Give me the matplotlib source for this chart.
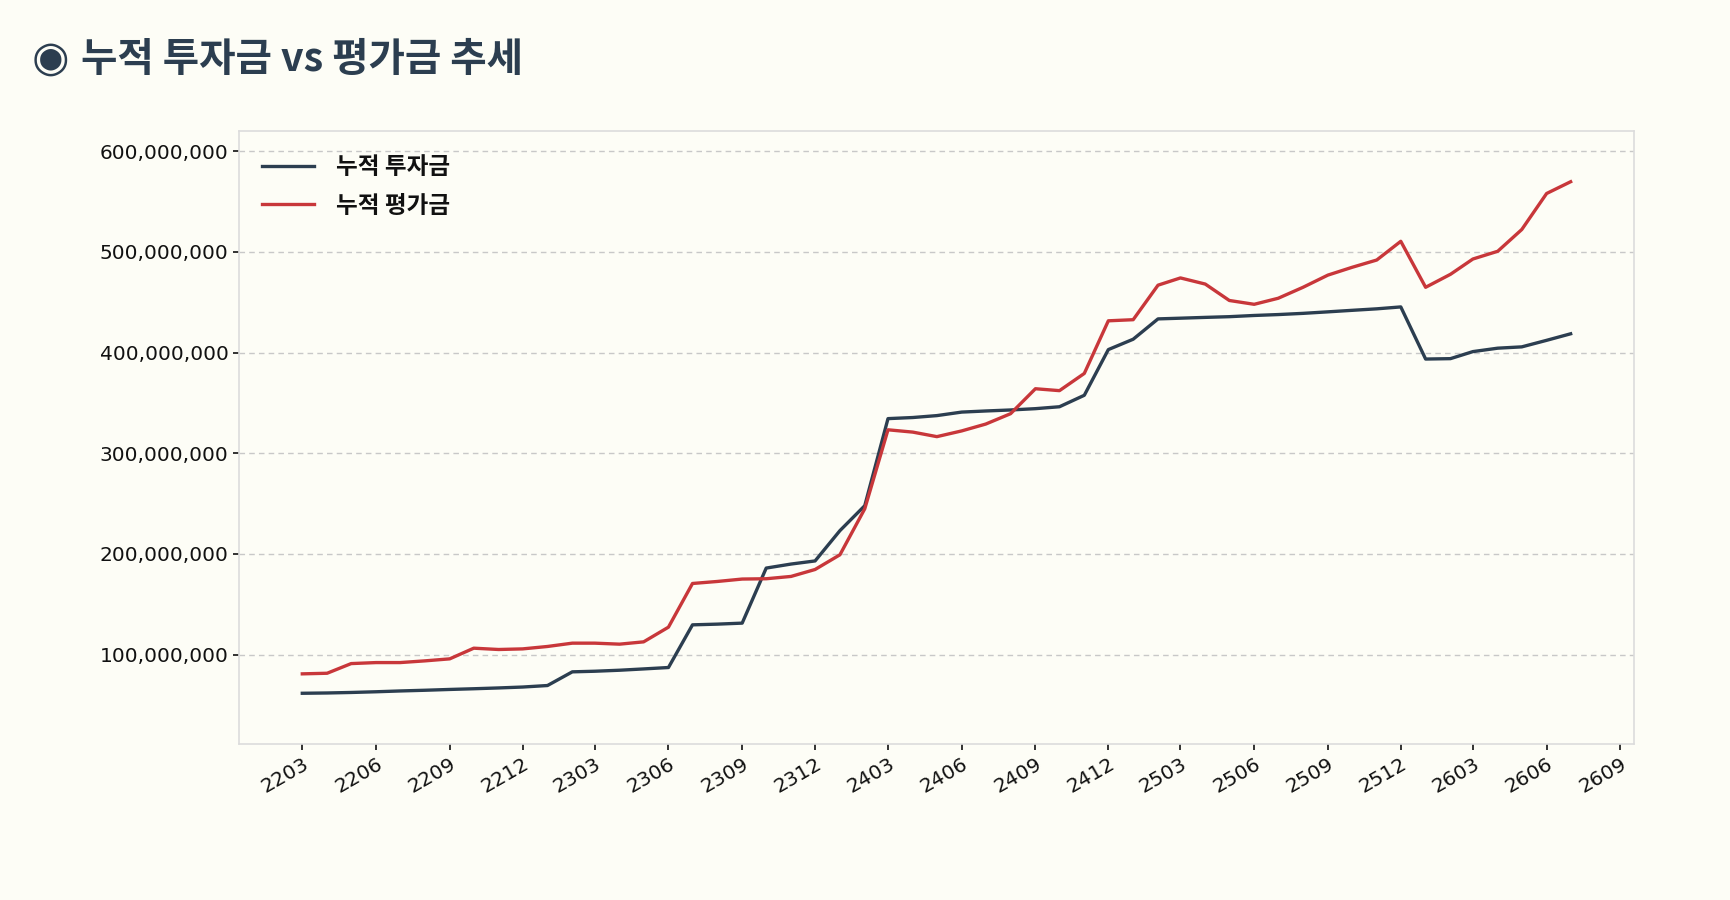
import matplotlib
matplotlib.use("Agg")
import matplotlib.pyplot as plt
import matplotlib.dates as mdates
from matplotlib.ticker import FuncFormatter
import pandas as pd

# ---- data (millions of KRW) ----
months = pd.date_range("2022-03-01", "2026-07-01", freq="MS")

invested_m = [
    61.5, 61.8, 62.3, 63.0, 63.8, 64.5, 65.3, 66.0, 66.8, 67.7,   # 2203-2212
    69.2, 82.8, 83.4, 84.4, 85.7, 87.1, 129.5, 130.2, 131.2, 185.9, 189.9, 193.0,  # 2301-2312
    223.1, 247.9, 334.4, 335.5, 337.4, 340.9, 342.0, 343.0, 344.3, 346.2, 357.6, 403.0,  # 2401-2412
    413.3, 433.5, 434.2, 435.0, 435.7, 436.9, 437.8, 439.0, 440.5, 442.0, 443.5, 445.4,  # 2501-2512
    393.6, 394.0, 401.0, 404.4, 405.7, 412.2, 418.7,  # 2601-2607
]

valued_m = [
    80.8, 81.4, 91.0, 92.0, 92.0, 93.7, 95.7, 106.3, 105.0, 105.6,   # 2203-2212
    108.0, 111.3, 111.3, 110.3, 112.6, 127.2, 170.6, 172.6, 175.0, 175.3, 177.6, 184.5,  # 2301-2312
    199.1, 244.8, 323.3, 321.0, 316.5, 322.2, 329.0, 339.3, 364.1, 362.2, 379.3, 431.6,  # 2401-2412
    432.7, 467.0, 474.2, 468.1, 451.8, 448.0, 454.0, 464.9, 477.0, 484.7, 492.0, 510.6,  # 2501-2512
    464.9, 477.8, 493.0, 500.7, 522.3, 558.1, 569.8,  # 2601-2607
]

invested = [v * 1e6 for v in invested_m]
valued = [v * 1e6 for v in valued_m]

series_labels = ["누적 투자금", "누적 평가금"]
title_icon = "◉"
title_text = "누적 투자금 vs 평가금 추세"

# ---- style ----
BG = "#fdfdf6"
NAVY = "#2c3e50"
RED = "#c8373a"
KFONT = ["Noto Sans CJK KR", "DejaVu Sans"]

fig = plt.figure(figsize=(17.31, 9.0), dpi=100, facecolor=BG)
ax = fig.add_axes([0.138, 0.173, 0.806, 0.681], facecolor=BG)

ax.plot(months, invested, color=NAVY, lw=2.4, label=series_labels[0])
ax.plot(months, valued, color=RED, lw=2.4, label=series_labels[1])

ax.set_ylim(10.8e6, 619.8e6)
ax.margins(x=0.05)

ax.xaxis.set_major_locator(mdates.MonthLocator(bymonth=[3, 6, 9, 12]))
ax.xaxis.set_major_formatter(mdates.DateFormatter("%y%m"))
ax.yaxis.set_major_formatter(FuncFormatter(lambda v, p: f"{int(round(v)):,}"))

for lbl in ax.get_xticklabels():
    lbl.set_rotation(30)
    lbl.set_ha("right")
    lbl.set_rotation_mode("anchor")

ax.tick_params(axis="both", labelsize=14.5, colors="#111111", length=4, width=1.2)
for lbl in ax.get_xticklabels() + ax.get_yticklabels():
    lbl.set_family("DejaVu Sans")
    lbl.set_color("#111111")
    lbl.set_fontweight("medium")

ax.grid(axis="y", linestyle=(0, (4, 3)), color="#c8c8c8", lw=1.0)
ax.set_axisbelow(True)
for s in ax.spines.values():
    s.set_color("#dcdcdc")
    s.set_linewidth(1.2)

leg = ax.legend(loc="upper left", frameon=False, handlelength=2.2, handletextpad=0.9,
                labelspacing=0.62, borderaxespad=0.6,
                prop={"family": KFONT, "size": 17, "weight": "bold"})
for t in leg.get_texts():
    t.set_color("#111111")

fig.text(0.0185, 0.935, title_icon, family="DejaVu Sans", fontsize=31,
         color=NAVY, va="center", ha="left")
fig.text(0.047, 0.934, title_text, family=KFONT, fontsize=28.5, fontweight="bold",
         color=NAVY, va="center", ha="left")

fig.savefig("out.png", dpi=100, facecolor=BG)
